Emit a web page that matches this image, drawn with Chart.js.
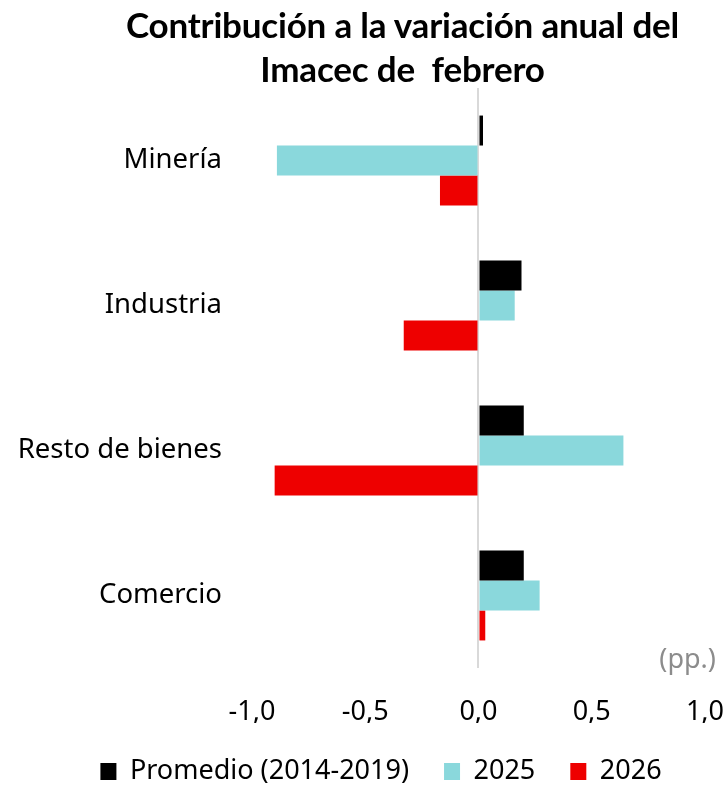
<!DOCTYPE html>
<html lang="es">
<head>
<meta charset="utf-8">
<title>Contribución a la variación anual del Imacec de febrero</title>
<script src="https://cdn.jsdelivr.net/npm/chart.js@4.4.1/dist/chart.umd.min.js"></script>
<style>
    html, body { margin: 0; padding: 0; background: #fff; }
    .wrap { position: relative; width: 728px; height: 789px; }
    .chart-title {
        position: absolute; top: 2px; left: 77px; right: 0;
        text-align: center;
        font-family: Lato, "Open Sans", sans-serif;
        font-weight: 700; font-size: 35px; line-height: 44px;
        color: #000; letter-spacing: -0.2px;
    }
    canvas { display: block; }
</style>
</head>
<body>
<div class="wrap">
    <div class="chart-title">Contribución a la variación anual del<br>Imacec de&nbsp; febrero</div>
    <canvas id="imacecChart" width="728" height="789"></canvas>
</div>
<script>
// Data (percentage points)
const categories = ['Minería', 'Industria', 'Resto de bienes', 'Comercio'];
const promedio = [0.02, 0.19, 0.20, 0.20];
const serie2025 = [-0.89, 0.16, 0.64, 0.27];
const serie2026 = [-0.17, -0.33, -0.90, 0.03];
const seriesNames = ['Promedio (2014-2019)', '2025', '2026'];
const xTicks = [-1.0, -0.5, 0.0, 0.5, 1.0];

const black = '#000000';
const cyan = '#8ad8dc';
const red = '#ee0000';
const font = "'Noto Sans', 'Open Sans', sans-serif";

// ==========================================================================
// Small helpers: place the legend, write the unit "(pp.)"
// ==========================================================================
const legendCenterX = 381;
const legendShift = {
    id: 'legendShift',
    afterLayout(chart) {
        const lg = chart.legend;
        if (!lg || !lg.lineWidths || !lg.lineWidths.length) return;
        const pad = lg.options.labels.padding;
        const line = lg.lineWidths[0];
        // same start position the legend uses for align: 'center'
        const start = (lg.left + pad + lg.right - line) / 2;
        const mid = start + (line - pad) / 2;
        const dx = legendCenterX - mid;
        lg.left += dx;
        lg.right += dx;
    }
};

const unitLabel = {
    id: 'unitLabel',
    afterDraw(chart) {
        const { ctx, chartArea } = chart;
        ctx.save();
        ctx.font = '27px ' + font;
        ctx.fillStyle = '#8c8c8c';
        ctx.textAlign = 'right';
        ctx.textBaseline = 'middle';
        ctx.fillText('(pp.)', chartArea.right + 11, chartArea.bottom - 8);
        ctx.restore();
    }
};

const ctx = document.getElementById('imacecChart').getContext('2d');
new Chart(ctx, {
    type: 'bar',
    data: {
        labels: categories,
        datasets: [
            { label: seriesNames[0], data: promedio, backgroundColor: black },
            { label: seriesNames[1], data: serie2025, backgroundColor: cyan },
            { label: seriesNames[2], data: serie2026, backgroundColor: red }
        ]
    },
    options: {
        indexAxis: 'y',
        responsive: false,
        animation: false,
        categoryPercentage: 0.62,
        barPercentage: 1.0,
        layout: { padding: { top: 88, right: 23, left: 0, bottom: -6 } },
        plugins: {
            legend: {
                position: 'bottom',
                labels: {
                    color: '#000',
                    font: { family: font, size: 27 },
                    boxWidth: 16,
                    boxHeight: 17,
                    padding: 35
                }
            },
            tooltip: { enabled: false }
        },
        scales: {
            x: {
                min: -1,
                max: 1,
                afterBuildTicks(axis) {
                    axis.ticks = xTicks.map(v => ({ value: v }));
                },
                afterFit(axis) { axis.height = 55; },
                ticks: {
                    color: '#000',
                    font: { family: font, size: 27 },
                    padding: 4,
                    maxRotation: 0,
                    callback: v => v.toFixed(1).replace('.', ',')
                },
                border: { display: false },
                grid: {
                    drawTicks: true,
                    tickLength: 24,
                    tickColor: 'rgba(0,0,0,0)',
                    lineWidth: 2,
                    color: c => (c.tick && c.tick.value === 0 ? '#d9d9d9' : 'rgba(0,0,0,0)')
                }
            },
            y: {
                afterFit(axis) { axis.width = 252; },
                ticks: {
                    color: '#000',
                    font: { family: font, size: 27.5 },
                    padding: 30
                },
                border: { display: false },
                grid: { display: false, drawTicks: false }
            }
        }
    },
    plugins: [legendShift, unitLabel]
});
</script>
</body>
</html>
